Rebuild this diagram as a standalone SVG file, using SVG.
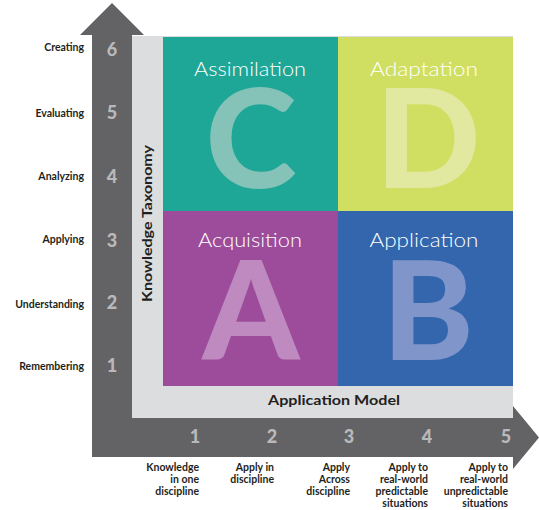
<svg xmlns="http://www.w3.org/2000/svg" width="539" height="510" viewBox="0 0 539 510">
<style>
  text { font-family: Lato, "Liberation Sans", sans-serif; }
  .lbl { font-size: 10.5px; font-weight: 700; fill: #231f20; text-anchor: end; }
  .num { font-size: 18px; font-weight: 900; fill: #b9b9bb; text-anchor: middle; }
  .bl { font-size: 10.5px; font-weight: 700; fill: #231f20; text-anchor: end; }
  .axis { font-size: 14px; font-weight: 700; fill: #231f20; text-anchor: middle; }
  .qt { font-size: 19px; font-weight: 300; fill: #ffffff; text-anchor: middle; }
  .big { font-size: 138px; font-weight: 900; text-anchor: middle; }
</style>
<rect width="539" height="510" fill="#ffffff"/>
<g id="axes">
  <path d="M112 3 L144 35 L132 35 L132 418 L513 418 L513 406 L539 437.5 L513 469 L513 457 L92 457 L92 35 L80 35 Z" fill="#636365"/>
  <rect x="132" y="36" width="381" height="382" fill="#dcdddf"/>
</g>
<g id="quadrant-C">
  <rect x="163" y="37" width="175" height="174" fill="#1ea696"/>
  <text class="qt" x="250" y="75.5" textLength="112" lengthAdjust="spacingAndGlyphs">Assimilation</text>
  <text class="big" x="251" y="188" fill="#85c3b9">C</text>
</g>
<g id="quadrant-D">
  <rect x="338" y="37" width="175" height="174" fill="#d0df61"/>
  <text class="qt" x="424" y="75.5" textLength="108" lengthAdjust="spacingAndGlyphs">Adaptation</text>
  <text class="big" x="428" y="188" fill="#e1e9a0">D</text>
</g>
<g id="quadrant-A">
  <rect x="163" y="211" width="175" height="175" fill="#9c4c9b"/>
  <text class="qt" x="250" y="247" textLength="104" lengthAdjust="spacingAndGlyphs">Acquisition</text>
  <text class="big" x="251" y="360" fill="#be8abf">A</text>
</g>
<g id="quadrant-B">
  <rect x="338" y="211" width="175" height="175" fill="#3366ad"/>
  <text class="qt" x="424" y="247" textLength="109" lengthAdjust="spacingAndGlyphs">Application</text>
  <text class="big" x="428" y="360" fill="#8095c9">B</text>
</g>
<g id="axis-titles">
  <text class="axis" x="334" y="405" textLength="132" lengthAdjust="spacingAndGlyphs">Application Model</text>
  <text class="axis" transform="translate(152 223.5) rotate(-90)" x="0" y="0" textLength="157" lengthAdjust="spacingAndGlyphs">Knowledge Taxonomy</text>
</g>
<g id="y-levels">
  <text class="lbl" x="84" y="51">Creating</text>
  <text class="lbl" x="84" y="116.5">Evaluating</text>
  <text class="lbl" x="84" y="180">Analyzing</text>
  <text class="lbl" x="84" y="243">Applying</text>
  <text class="lbl" x="84" y="308">Understanding</text>
  <text class="lbl" x="84" y="370">Remembering</text>
  <text class="num" x="112" y="56">6</text>
  <text class="num" x="112" y="119">5</text>
  <text class="num" x="112" y="183">4</text>
  <text class="num" x="112" y="247">3</text>
  <text class="num" x="112" y="309">2</text>
  <text class="num" x="112" y="372">1</text>
</g>
<g id="x-levels">
  <text class="num" x="195" y="443">1</text>
  <text class="num" x="272" y="443">2</text>
  <text class="num" x="349" y="443">3</text>
  <text class="num" x="427" y="443">4</text>
  <text class="num" x="506" y="443">5</text>
  <text class="bl" x="199" y="471">Knowledge<tspan x="199" dy="12">in one</tspan><tspan x="199" dy="12">discipline</tspan></text>
  <text class="bl" x="274" y="471">Apply in<tspan x="274" dy="12">discipline</tspan></text>
  <text class="bl" x="350" y="471">Apply<tspan x="350" dy="12">Across</tspan><tspan x="350" dy="12">discipline</tspan></text>
  <text class="bl" x="428" y="471">Apply to<tspan x="428" dy="12">real-world</tspan><tspan x="428" dy="12">predictable</tspan><tspan x="428" dy="12">situations</tspan></text>
  <text class="bl" x="508" y="471">Apply to<tspan x="508" dy="12">real-world</tspan><tspan x="508" dy="12">unpredictable</tspan><tspan x="508" dy="12">situations</tspan></text>
</g>
</svg>
